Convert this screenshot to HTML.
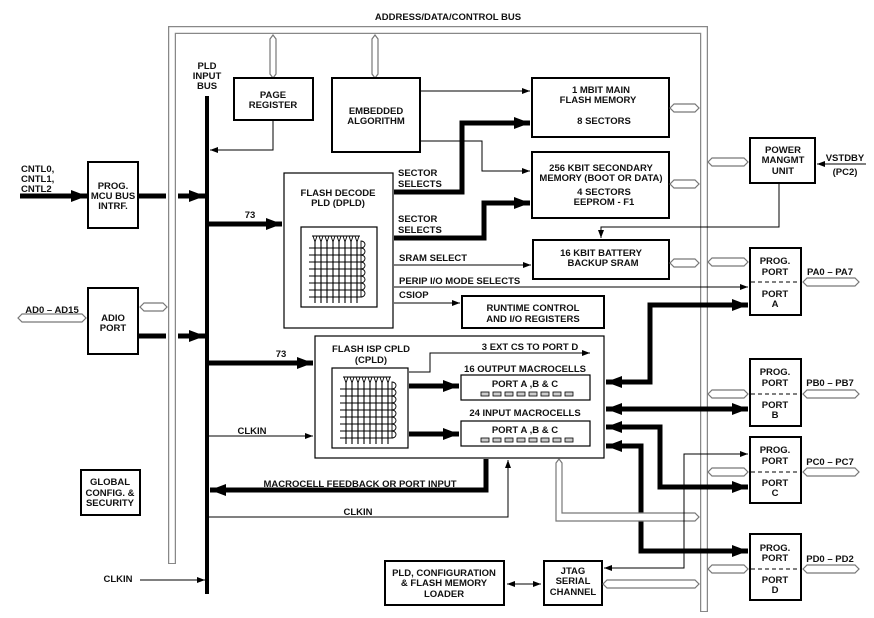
<!DOCTYPE html>
<html><head><meta charset="utf-8"><style>
html,body{margin:0;padding:0;background:#fff;}
svg{display:block;}
text{font-family:"Liberation Sans",Arial,sans-serif;font-weight:bold;font-size:9.5px;fill:#111;}
.b{fill:#fff;stroke:#000;stroke-width:2;}
.t{fill:none;stroke:#000;stroke-width:1;}
.k{fill:none;stroke:#000;stroke-width:5;}
.h{fill:#fff;stroke:#777;stroke-width:1.2;}
</style></head><body>
<svg width="874" height="618" viewBox="0 0 874 618" xmlns="http://www.w3.org/2000/svg">
<defs>
<marker id="a" markerWidth="8" markerHeight="6" refX="8" refY="3" orient="auto" markerUnits="userSpaceOnUse"><path d="M0,0 L8,3 L0,6 Z" fill="#000"/></marker>
<marker id="A" markerWidth="16" markerHeight="12" refX="16" refY="6" orient="auto" markerUnits="userSpaceOnUse"><path d="M0,0 L16,6 L0,12 Z" fill="#000"/></marker>
<marker id="As" markerWidth="16" markerHeight="12" refX="0" refY="6" orient="auto" markerUnits="userSpaceOnUse"><path d="M16,0 L0,6 L16,12 Z" fill="#000"/></marker>
<marker id="as" markerWidth="8" markerHeight="6" refX="0" refY="3" orient="auto" markerUnits="userSpaceOnUse"><path d="M8,0 L0,3 L8,6 Z" fill="#000"/></marker>
<g id="grid">
<rect x="0" y="0" width="76" height="80" fill="#fff" stroke="#000" stroke-width="1.2"/>
<path d="M12,9 L14,15 L16,9 M18,9 L20,15 L22,9 M24,9 L26,15 L28,9 M30,9 L32,15 L34,9 M36,9 L38,15 L40,9 M42,9 L44,15 L46,9 M48,9 L50,15 L52,9 M54,9 L56,15 L58,9 M11,9 H59" fill="none" stroke="#000" stroke-width="0.9"/>
<path d="M14,15 V76 M20,15 V76 M26,15 V76 M32,15 V76 M38,15 V76 M44,15 V76 M50,15 V76 M56,15 V76 M8,21 H61 M8,28 H61 M8,35 H61 M8,42 H61 M8,49 H61 M8,56 H61 M8,63 H61 M8,70 H61" fill="none" stroke="#000" stroke-width="1.1"/>
<path d="M60,14 a4,3.5 0 0 1 0,7 a4,3.5 0 0 1 0,7 a4,3.5 0 0 1 0,7 a4,3.5 0 0 1 0,7 a4,3.5 0 0 1 0,7 a4,3.5 0 0 1 0,7 a4,3.5 0 0 1 0,7 a4,3.5 0 0 1 0,7 Z" fill="none" stroke="#000" stroke-width="0.9"/>
</g>
</defs>

<!-- gray bus frame -->
<path d="M172,564 V30 H704 V612" fill="none" stroke="#888" stroke-width="8"/>
<path d="M172,563 V30 H704 V611" fill="none" stroke="#fff" stroke-width="5.5"/>
<text x="448" y="20" text-anchor="middle">ADDRESS/DATA/CONTROL BUS</text>

<!-- left blocks -->
<text x="21" y="172">CNTL0,</text><text x="21" y="182">CNTL1,</text><text x="21" y="192">CNTL2</text>
<line x1="20" y1="196" x2="87" y2="196" class="k" marker-end="url(#A)"/>
<rect x="88" y="162" width="50" height="66" class="b"/>
<text x="113" y="189" text-anchor="middle">PROG.</text><text x="113" y="199" text-anchor="middle">MCU BUS</text><text x="113" y="209" text-anchor="middle">INTRF.</text>
<line x1="139" y1="196" x2="166" y2="196" class="k"/><line x1="178" y1="196" x2="205" y2="196" class="k" marker-end="url(#A)"/>

<text x="52" y="313" text-anchor="middle">AD0 – AD15</text>
<path d="M18,318 l4,-4 h60 l4,4 l-4,4 h-60 Z" class="h"/>
<rect x="88" y="288" width="50" height="66" class="b"/>
<text x="113" y="321" text-anchor="middle">ADIO</text><text x="113" y="331" text-anchor="middle">PORT</text>
<path d="M140,307 l4,-4 h19 l4,4 l-4,4 h-19 Z" class="h"/>
<line x1="139" y1="336" x2="166" y2="336" class="k"/><line x1="178" y1="336" x2="205" y2="336" class="k" marker-end="url(#A)"/>

<rect x="81" y="470" width="59" height="45" class="b"/>
<text x="110" y="485" text-anchor="middle">GLOBAL</text><text x="110" y="496" text-anchor="middle">CONFIG. &amp;</text><text x="110" y="506" text-anchor="middle">SECURITY</text>
<text x="118" y="582" text-anchor="middle">CLKIN</text>
<line x1="140" y1="580" x2="205" y2="580" class="t" marker-end="url(#a)"/>

<!-- PLD input bus -->
<text x="207" y="69" text-anchor="middle">PLD</text><text x="207" y="79" text-anchor="middle">INPUT</text><text x="207" y="89" text-anchor="middle">BUS</text>
<line x1="207" y1="96" x2="207" y2="594" stroke="#000" stroke-width="4"/>

<!-- page register / embedded -->
<path d="M273,35 l3,4 v35 l-3,4 l-3,-4 v-35 Z" class="h"/>
<path d="M375,35 l3,4 v35 l-3,4 l-3,-4 v-35 Z" class="h"/>
<rect x="234" y="78" width="79" height="42" class="b"/>
<text x="273" y="98" text-anchor="middle">PAGE</text><text x="273" y="108" text-anchor="middle">REGISTER</text>
<path d="M273,121 V150 H210" class="t" marker-end="url(#a)"/>
<rect x="332" y="78" width="88" height="74" class="b"/>
<text x="376" y="114" text-anchor="middle">EMBEDDED</text><text x="376" y="124" text-anchor="middle">ALGORITHM</text>
<line x1="421" y1="91" x2="530" y2="91" class="t" marker-end="url(#a)"/>
<path d="M421,141 H482 V171 H530" class="t" marker-end="url(#a)"/>

<!-- memories -->
<rect x="532" y="78" width="137" height="59" class="b"/>
<text x="601" y="93" text-anchor="middle">1 MBIT MAIN</text><text x="598" y="103" text-anchor="middle">FLASH MEMORY</text><text x="604" y="124" text-anchor="middle">8 SECTORS</text>
<path d="M670,108 l4,-4 h21 l4,4 l-4,4 h-21 Z" class="h"/>
<rect x="532" y="152" width="137" height="66" class="b"/>
<text x="601" y="171" text-anchor="middle">256 KBIT SECONDARY</text><text x="601" y="181" text-anchor="middle">MEMORY (BOOT OR DATA)</text><text x="604" y="195" text-anchor="middle">4 SECTORS</text><text x="604" y="205" text-anchor="middle">EEPROM - F1</text>
<path d="M670,184 l4,-4 h21 l4,4 l-4,4 h-21 Z" class="h"/>
<rect x="533" y="240" width="136" height="39" class="b"/>
<text x="601" y="256" text-anchor="middle">16 KBIT BATTERY</text><text x="603" y="266" text-anchor="middle">BACKUP SRAM</text>
<path d="M670,263 l4,-4 h21 l4,4 l-4,4 h-21 Z" class="h"/>

<!-- power mgmt -->
<rect x="750" y="138" width="65" height="45" class="b"/>
<text x="783" y="153" text-anchor="middle">POWER</text><text x="783" y="163" text-anchor="middle">MANGMT</text><text x="783" y="174" text-anchor="middle">UNIT</text>
<text x="845" y="161" text-anchor="middle">VSTDBY</text><text x="845" y="175" text-anchor="middle">(PC2)</text>
<line x1="866" y1="164" x2="817" y2="164" class="t" marker-end="url(#a)"/>
<path d="M708,162 l4,-4 h32 l4,4 l-4,4 h-32 Z" class="h"/>
<path d="M779,184 V227 H601 V238" class="t" marker-end="url(#a)"/>

<!-- DPLD -->
<rect x="284" y="173" width="109" height="155" fill="#fff" stroke="#000" stroke-width="1.2"/>
<text x="338" y="196" text-anchor="middle">FLASH DECODE</text><text x="338" y="206" text-anchor="middle">PLD (DPLD)</text>
<use href="#grid" x="301" y="227"/>
<line x1="209" y1="224" x2="282" y2="224" class="k" marker-end="url(#A)"/>
<text x="250" y="218" text-anchor="middle">73</text>
<text x="398" y="176">SECTOR</text><text x="398" y="187">SELECTS</text>
<path d="M394,192 H462 V123 H530" class="k" marker-end="url(#A)"/>
<text x="398" y="222">SECTOR</text><text x="398" y="233">SELECTS</text>
<path d="M394,238 H484 V203 H530" class="k" marker-end="url(#A)"/>
<text x="399" y="261">SRAM SELECT</text>
<line x1="394" y1="265" x2="531" y2="265" class="t" marker-end="url(#a)"/>
<text x="399" y="284">PERIP I/O MODE SELECTS</text>
<line x1="394" y1="287" x2="748" y2="287" class="t" marker-end="url(#a)"/>
<text x="399" y="298">CSIOP</text>
<line x1="394" y1="303" x2="460" y2="303" class="t" marker-end="url(#a)"/>
<rect x="462" y="296" width="142" height="32" class="b"/>
<text x="533" y="311" text-anchor="middle">RUNTIME CONTROL</text><text x="533" y="322" text-anchor="middle">AND I/O REGISTERS</text>

<!-- ports -->
<path d="M708,262 l4,-4 h32 l4,4 l-4,4 h-32 Z" class="h"/>
<rect x="750" y="248" width="51" height="67" class="b"/>
<line x1="751" y1="282" x2="800" y2="282" stroke="#000" stroke-dasharray="4,3"/>
<text x="775" y="264" text-anchor="middle">PROG.</text><text x="775" y="275" text-anchor="middle">PORT</text><text x="775" y="297" text-anchor="middle">PORT</text><text x="775" y="307" text-anchor="middle">A</text>
<text x="830" y="275" text-anchor="middle">PA0 – PA7</text>
<path d="M803,282 l4,-4 h48 l4,4 l-4,4 h-48 Z" class="h"/>

<rect x="750" y="359" width="51" height="67" class="b"/>
<line x1="751" y1="394" x2="800" y2="394" stroke="#000" stroke-dasharray="4,3"/>
<text x="775" y="375" text-anchor="middle">PROG.</text><text x="775" y="386" text-anchor="middle">PORT</text><text x="775" y="408" text-anchor="middle">PORT</text><text x="775" y="418" text-anchor="middle">B</text>
<text x="830" y="386" text-anchor="middle">PB0 – PB7</text>
<path d="M803,394 l4,-4 h48 l4,4 l-4,4 h-48 Z" class="h"/>
<path d="M708,394 l4,-4 h32 l4,4 l-4,4 h-32 Z" class="h"/>

<rect x="750" y="437" width="51" height="66" class="b"/>
<line x1="751" y1="472" x2="800" y2="472" stroke="#000" stroke-dasharray="4,3"/>
<text x="775" y="453" text-anchor="middle">PROG.</text><text x="775" y="464" text-anchor="middle">PORT</text><text x="775" y="486" text-anchor="middle">PORT</text><text x="775" y="496" text-anchor="middle">C</text>
<text x="830" y="465" text-anchor="middle">PC0 – PC7</text>
<path d="M803,472 l4,-4 h48 l4,4 l-4,4 h-48 Z" class="h"/>
<path d="M708,472 l4,-4 h32 l4,4 l-4,4 h-32 Z" class="h"/>

<rect x="750" y="534" width="51" height="66" class="b"/>
<line x1="751" y1="569" x2="800" y2="569" stroke="#000" stroke-dasharray="4,3"/>
<text x="775" y="551" text-anchor="middle">PROG.</text><text x="775" y="561" text-anchor="middle">PORT</text><text x="775" y="583" text-anchor="middle">PORT</text><text x="775" y="593" text-anchor="middle">D</text>
<text x="830" y="562" text-anchor="middle">PD0 – PD2</text>
<path d="M803,569 l4,-4 h48 l4,4 l-4,4 h-48 Z" class="h"/>
<path d="M708,569 l4,-4 h32 l4,4 l-4,4 h-32 Z" class="h"/>

<!-- CPLD -->
<rect x="315" y="336" width="289" height="122" fill="#fff" stroke="#000" stroke-width="1.2"/>
<text x="371" y="352" text-anchor="middle">FLASH ISP CPLD</text><text x="371" y="363" text-anchor="middle">(CPLD)</text>
<use href="#grid" x="332" y="368"/>
<line x1="209" y1="363" x2="313" y2="363" class="k" marker-end="url(#A)"/>
<text x="281" y="357" text-anchor="middle">73</text>
<text x="252" y="434" text-anchor="middle">CLKIN</text>
<line x1="209" y1="436" x2="313" y2="436" class="t" marker-end="url(#a)"/>
<path d="M409,372 H430 V353 H590" class="t" marker-end="url(#a)"/>
<text x="530" y="350" text-anchor="middle">3 EXT CS TO PORT D</text>
<text x="525" y="372" text-anchor="middle">16 OUTPUT MACROCELLS</text>
<rect x="461" y="375" width="129" height="25" fill="#fff" stroke="#000" stroke-width="1.2"/>
<text x="525" y="387" text-anchor="middle">PORT A ,B &amp; C</text>
<text x="525" y="416" text-anchor="middle">24 INPUT MACROCELLS</text>
<rect x="461" y="421" width="129" height="25" fill="#fff" stroke="#000" stroke-width="1.2"/>
<text x="525" y="433" text-anchor="middle">PORT A ,B &amp; C</text>
<g fill="#ccc" stroke="#000" stroke-width="0.8">
<rect x="481" y="392" width="8" height="4"/><rect x="493" y="392" width="8" height="4"/><rect x="505" y="392" width="8" height="4"/><rect x="517" y="392" width="8" height="4"/><rect x="529" y="392" width="8" height="4"/><rect x="541" y="392" width="8" height="4"/><rect x="553" y="392" width="8" height="4"/><rect x="565" y="392" width="8" height="4"/>
<rect x="481" y="438" width="8" height="4"/><rect x="493" y="438" width="8" height="4"/><rect x="505" y="438" width="8" height="4"/><rect x="517" y="438" width="8" height="4"/><rect x="529" y="438" width="8" height="4"/><rect x="541" y="438" width="8" height="4"/><rect x="553" y="438" width="8" height="4"/><rect x="565" y="438" width="8" height="4"/>
</g>
<line x1="409" y1="386" x2="459" y2="386" class="k" marker-end="url(#A)"/>
<line x1="409" y1="434" x2="459" y2="434" class="k" marker-end="url(#A)"/>

<!-- thick port connections -->
<path d="M606,382 H650 V305 H748" class="k" marker-start="url(#As)" marker-end="url(#A)"/>
<line x1="606" y1="409" x2="748" y2="409" class="k" marker-start="url(#As)" marker-end="url(#A)"/>
<path d="M606,427 H660 V487 H748" class="k" marker-start="url(#As)" marker-end="url(#A)"/>
<path d="M606,446 H641 V551 H748" class="k" marker-start="url(#As)" marker-end="url(#A)"/>

<!-- feedback, clkin -->
<path d="M486,459 V490 H210" class="k" marker-end="url(#A)"/>
<text x="360" y="487" text-anchor="middle">MACROCELL FEEDBACK OR PORT INPUT</text>
<path d="M209,517 H508 V460" class="t" marker-end="url(#a)"/>
<text x="358" y="515" text-anchor="middle">CLKIN</text>
<path d="M556,463 l3,-4 l3,4 v50 h133 l4,4 l-4,4 h-139 Z" class="h"/>

<!-- JTAG -->
<rect x="385" y="561" width="119" height="44" class="b"/>
<text x="444" y="576" text-anchor="middle">PLD, CONFIGURATION</text><text x="444" y="586" text-anchor="middle">&amp; FLASH MEMORY</text><text x="444" y="597" text-anchor="middle">LOADER</text>
<line x1="507" y1="584" x2="541" y2="584" class="t" marker-start="url(#as)" marker-end="url(#a)"/>
<rect x="544" y="561" width="58" height="44" class="b"/>
<text x="573" y="574" text-anchor="middle">JTAG</text><text x="573" y="584" text-anchor="middle">SERIAL</text><text x="573" y="595" text-anchor="middle">CHANNEL</text>
<path d="M603,584 l4,-4 h88 l4,4 l-4,4 h-88 Z" class="h"/>
<path d="M748,454 H684 V568 H604" class="t" marker-start="url(#as)" marker-end="url(#a)"/>
</svg>
</body></html>
